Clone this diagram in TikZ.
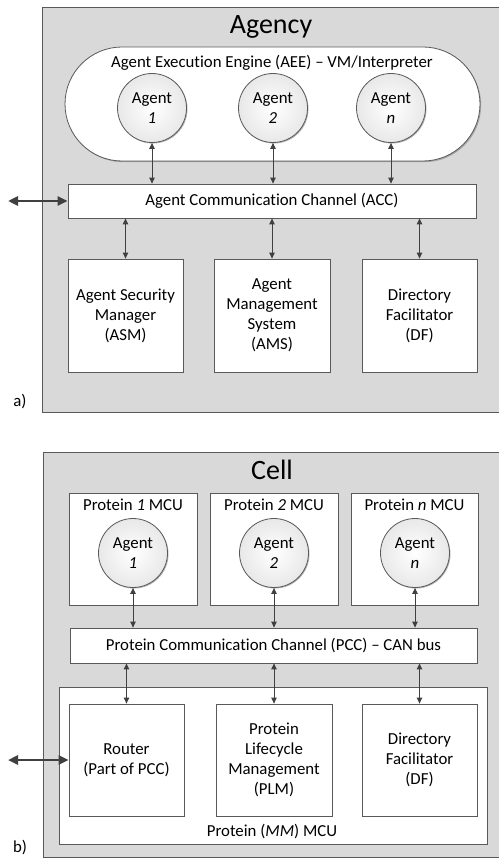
\documentclass[tikz,border=0pt]{standalone}
\usepackage{fontspec}
\setmainfont[Ligatures=NoCommon]{Carlito}
\usetikzlibrary{arrows.meta,shadows}
\definecolor{panelgray}{HTML}{D9D9D9}
\definecolor{linegray}{HTML}{595959}
\definecolor{arrowgray}{HTML}{404040}
\begin{document}
\begin{tikzpicture}[x=1pt, y=-1pt, font=\fontsize{16.8}{20}\selectfont,
                every node/.style={inner sep=0pt, align=center},
                panel/.style={rectangle, draw=linegray, line width=0.9pt, fill=panelgray},
                block/.style={rectangle, draw=linegray, line width=0.8pt, fill=white,
                        drop shadow={shadow xshift=1.2pt, shadow yshift=-1.2pt, fill=black!35, opacity=1}},
                agent/.style={circle, draw=linegray, line width=0.8pt, minimum size=69pt,
                        inner color=white, outer color=black!9,
                        drop shadow={shadow xshift=1pt, shadow yshift=-1pt, fill=black!30, opacity=1}},
                every edge/.style={draw, arrowgray},
                link/.style={<->, >={Triangle[length=6pt, width=5.5pt]}, line width=0.9pt},
                extlink/.style={<->, >={Triangle[length=10pt, width=9pt]}, line width=2.6pt}]

                \useasboundingbox (0,0) rectangle (498,858);

                % a) agency
                \node[panel, minimum width=463pt, minimum height=405pt] (agency) at (273.5,209.5) {};
                \node[font=\fontsize{28}{32}\selectfont] (agencyTitle) at (271,27) {Agency};
                \node[block, rounded corners=57pt, minimum width=415pt, minimum height=114pt] (aee) at (272.5,104) {};
                \node (aeeLabel) at (272,63) {Agent Execution Engine (AEE) -- VM/Interpreter};
                \node[agent] (A1) at (152,108) {Agent\\\textit{1}};
                \node[agent] (A2) at (273,108) {Agent\\\textit{2}};
                \node[agent] (An) at (391,108) {Agent\\\textit{n}};
                \node[block, minimum width=408pt, minimum height=34pt] (acc) at (272,201) {Agent Communication Channel (ACC)};
                \node[block, minimum width=115pt, minimum height=113pt] (asm) at (125.5,315.5) {Agent Security\\Manager\\(ASM)};
                \node[block, minimum width=116pt, minimum height=113pt] (ams) at (272,315.5) {Agent\\Management\\System\\(AMS)};
                \node[block, minimum width=115pt, minimum height=113pt] (dfA) at (419.5,315.5) {Directory\\Facilitator\\(DF)};
                \node (labelA) at (20,402) {a)};
                \coordinate (extA) at (8,201);

                \path [link] (A1.south) edge (A1.south |- acc.north);
                \path [link] (A2.south) edge (A2.south |- acc.north);
                \path [link] (An.south) edge (An.south |- acc.north);
                \path [link] (asm.north |- acc.south) edge (asm.north);
                \path [link] (ams.north |- acc.south) edge (ams.north);
                \path [link] (dfA.north |- acc.south) edge (dfA.north);
                \path [extlink] (extA) edge (acc.west);

                % b) cell
                \node[panel, minimum width=462pt, minimum height=405pt] (cell) at (274,654.5) {};
                \node[font=\fontsize{28}{32}\selectfont] (cellTitle) at (272,470) {Cell};
                \node[block, minimum width=128pt, minimum height=112pt] (P1) at (133,549) {};
                \node[block, minimum width=128pt, minimum height=112pt] (P2) at (274,549) {};
                \node[block, minimum width=127pt, minimum height=112pt] (Pn) at (414.5,549) {};
                \node (P1Label) at (133,505) {Protein \textit{1} MCU};
                \node (P2Label) at (274,505) {Protein \textit{2} MCU};
                \node (PnLabel) at (414.5,505) {Protein \textit{n} MCU};
                \node[agent] (B1) at (133,553) {Agent\\\textit{1}};
                \node[agent] (B2) at (274,553) {Agent\\\textit{2}};
                \node[agent] (Bn) at (415,553) {Agent\\\textit{n}};
                \node[block, minimum width=407pt, minimum height=35pt] (pcc) at (273.5,645.5) {Protein Communication Channel (PCC) -- CAN bus};
                \node[block, minimum width=428pt, minimum height=157pt] (mm) at (273,765.5) {};
                \node (mmLabel) at (272,832) {Protein (\textit{MM}) MCU};
                \node[block, minimum width=115pt, minimum height=112pt] (router) at (126.5,760) {Router\\(Part of PCC)};
                \node[block, minimum width=116pt, minimum height=112pt] (plm) at (274,760) {Protein\\Lifecycle\\Management\\(PLM)};
                \node[block, minimum width=115pt, minimum height=112pt] (dfB) at (419.5,760) {Directory\\Facilitator\\(DF)};
                \node (labelB) at (20,848) {b)};
                \coordinate (extB) at (8,760);

                \path [link] (B1.south) edge (B1.south |- pcc.north);
                \path [link] (B2.south) edge (B2.south |- pcc.north);
                \path [link] (Bn.south) edge (Bn.south |- pcc.north);
                \path [link] (router.north |- pcc.south) edge (router.north);
                \path [link] (plm.north |- pcc.south) edge (plm.north);
                \path [link] (dfB.north |- pcc.south) edge (dfB.north);
                \path [extlink] (extB) edge (router.west);
\end{tikzpicture}
\end{document}
